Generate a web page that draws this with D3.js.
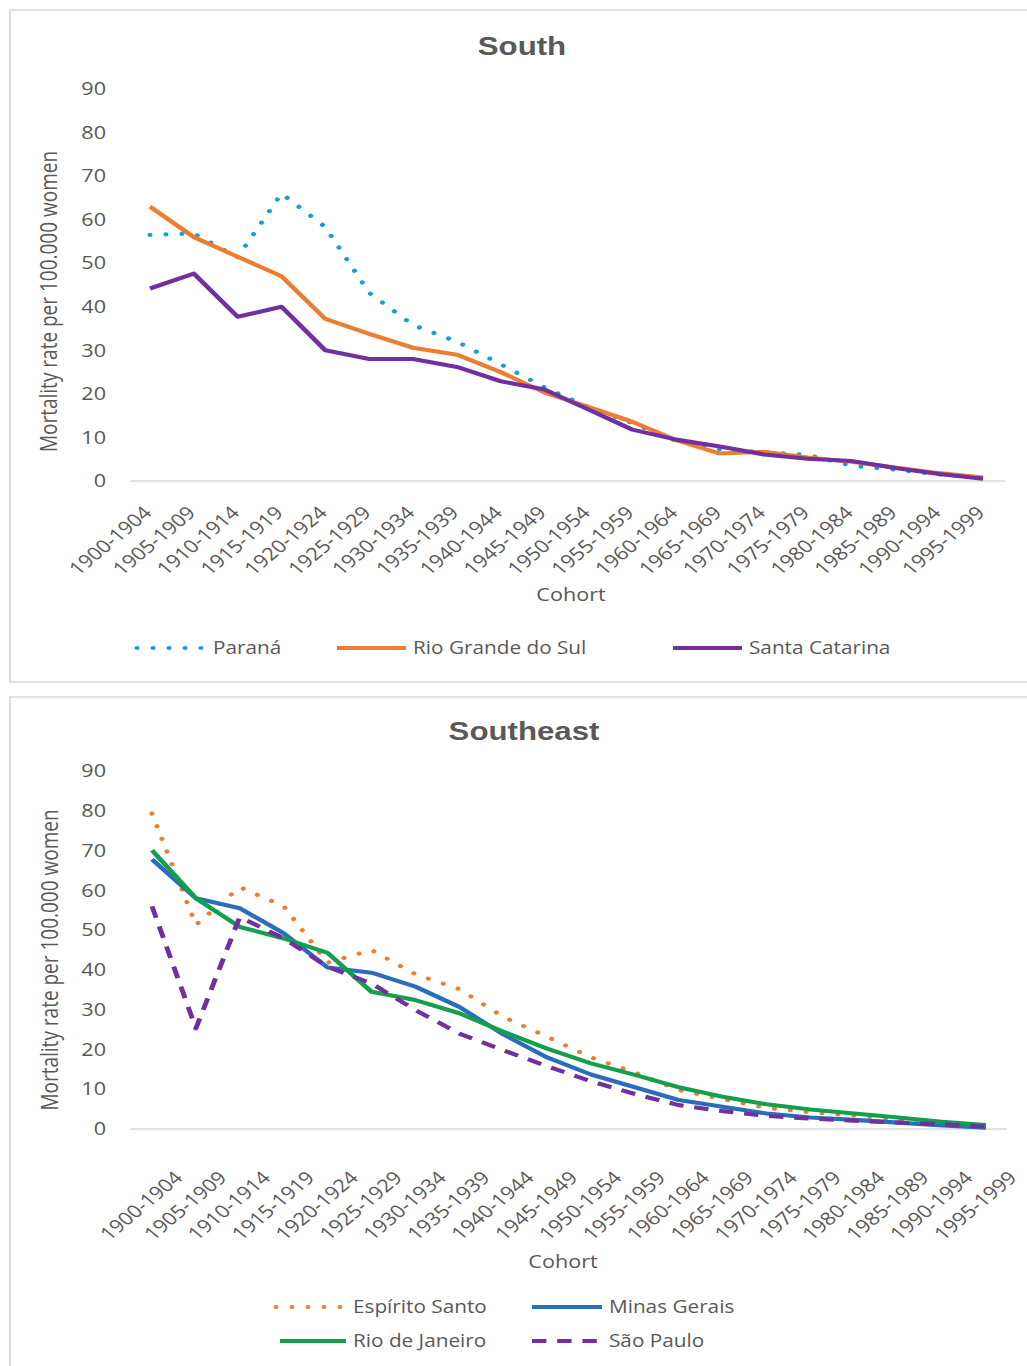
<!DOCTYPE html>
<html>
<head>
<meta charset="utf-8">
<script src="https://cdn.jsdelivr.net/npm/d3@7"></script>
<style>
  html, body { margin: 0; padding: 0; background: #ffffff; }
  svg { display: block; }
  text { font-family: "Open Sans", "Noto Sans", sans-serif; fill: #595959; }
  .title { font-family: "Liberation Sans", Arial, sans-serif; font-weight: bold; }
</style>
</head>
<body>
<svg id="chart"></svg>
<script>
// Cohort categories (x axis)
const cohorts = ["1900-1904", "1905-1909", "1910-1914", "1915-1919", "1920-1924",
  "1925-1929", "1930-1934", "1935-1939", "1940-1944", "1945-1949",
  "1950-1954", "1955-1959", "1960-1964", "1965-1969", "1970-1974",
  "1975-1979", "1980-1984", "1985-1989", "1990-1994", "1995-1999"];

// Y axis tick values
const yTicks = [0, 10, 20, 30, 40, 50, 60, 70, 80, 90];

// South: mortality rate per 100.000 women
const parana         = [56.5, 56.8, 51.4, 66.0, 58.3, 43.2, 35.8, 32.0, 26.8, 21.5,
                        17.0, 13.3, 9.2, 7.3, 6.6, 6.0, 3.5, 2.6, 1.5, 0.7];
const rioGrandeDoSul = [63.0, 56.0, 51.5, 47.0, 37.2, 33.8, 30.6, 29.0, 25.0, 20.3,
                        17.0, 13.6, 9.4, 6.3, 6.7, 5.4, 4.4, 3.1, 1.8, 0.8];
const santaCatarina  = [44.2, 47.6, 37.7, 40.0, 30.0, 28.0, 28.0, 26.2, 22.9, 21.0,
                        16.4, 11.8, 9.5, 7.9, 6.1, 5.1, 4.6, 3.0, 1.6, 0.5];

// Southeast: mortality rate per 100.000 women
const espiritoSanto  = [79.3, 51.3, 60.8, 56.0, 41.8, 45.0, 38.9, 35.2, 28.2, 23.2,
                        18.0, 14.2, 9.8, 7.5, 5.3, 4.2, 3.4, 2.4, 1.5, 0.8];
const minasGerais    = [67.8, 58.0, 55.5, 49.2, 40.6, 39.3, 35.8, 30.7, 23.8, 18.0,
                        13.7, 10.5, 7.3, 5.6, 3.9, 2.9, 2.3, 1.6, 0.9, 0.3];
const rioDeJaneiro   = [70.1, 58.0, 50.8, 47.9, 44.3, 34.5, 32.4, 29.1, 24.5, 20.2,
                        16.5, 13.6, 10.5, 8.1, 6.2, 4.9, 3.9, 2.9, 1.8, 1.0];
const saoPaulo       = [56.0, 25.3, 53.3, 47.9, 40.8, 36.6, 29.9, 24.0, 19.8, 15.8,
                        12.0, 8.8, 6.0, 4.5, 3.3, 2.6, 2.1, 1.6, 1.2, 0.6];

// Drawing is done in a narrower coordinate space that the SVG stretches horizontally.
const W = 1027, H = 1366, SX = 1.2;
const vx = v => v / SX;

const svg = d3.select("#chart")
  .attr("width", W).attr("height", H)
  .attr("viewBox", `0 0 ${W / SX} ${H}`)
  .attr("preserveAspectRatio", "none");

const styles = {
  dotted: { dash: "0.01,13.3", width: 4.2, cap: "round" },
  solid:  { dash: null, width: 4.1, cap: "butt" },
  dashed: { dash: "12,9", width: 4.1, cap: "butt" }
};

const panels = [
  {
    title: "South", titleX: 522, titleY: 55,
    boxTop: 10, boxBottom: 682,
    y0: 481, y90: 89, xFirst: 150, xLast: 983, base0: 130, base1: 1005,
    labelDx: 3, labelDy: 33,
    yTitleX: 57, yTitleY: 301.5, cohortX: 571, cohortY: 601,
    series: [
      { name: "Paraná", values: parana, color: "#12a0da", style: "dotted", lx0: 137, lx1: 205, tx: 213, ly: 648 },
      { name: "Rio Grande do Sul", values: rioGrandeDoSul, color: "#ed7d31", style: "solid", lx0: 337, lx1: 406, tx: 413, ly: 648 },
      { name: "Santa Catarina", values: santaCatarina, color: "#7030a0", style: "solid", lx0: 673, lx1: 742, tx: 749, ly: 648 }
    ]
  },
  {
    title: "Southeast", titleX: 524, titleY: 740,
    boxTop: 697, boxBottom: 1375,
    y0: 1129, y90: 771, xFirst: 152, xLast: 986, base0: 130, base1: 1007,
    labelDx: 32, labelDy: 50,
    yTitleX: 58, yTitleY: 960, cohortX: 563, cohortY: 1268,
    series: [
      { name: "Espírito Santo", values: espiritoSanto, color: "#ed7d31", style: "dotted", lx0: 276, lx1: 344, tx: 353, ly: 1307 },
      { name: "Minas Gerais", values: minasGerais, color: "#2a6ebb", style: "solid", lx0: 532, lx1: 602, tx: 609, ly: 1307 },
      { name: "Rio de Janeiro", values: rioDeJaneiro, color: "#13a04c", style: "solid", lx0: 280, lx1: 346, tx: 353, ly: 1341 },
      { name: "São Paulo", values: saoPaulo, color: "#7030a0", style: "dashed", lx0: 532, lx1: 600, tx: 609, ly: 1341 }
    ]
  }
];

panels.forEach(p => {
  const g = svg.append("g");

  // panel frame
  g.append("rect")
    .attr("x", vx(10)).attr("y", p.boxTop)
    .attr("width", vx(1040)).attr("height", p.boxBottom - p.boxTop)
    .attr("fill", "none").attr("stroke", "#d9d9d9").attr("stroke-width", 1.5);

  const x = d3.scalePoint().domain(cohorts).range([vx(p.xFirst), vx(p.xLast)]);
  const y = d3.scaleLinear().domain([0, 90]).range([p.y0, p.y90]);

  // title
  g.append("text").attr("class", "title")
    .attr("x", vx(p.titleX)).attr("y", p.titleY)
    .attr("text-anchor", "middle").attr("font-size", 26)
    .text(p.title);

  // y axis
  const yAxis = g.append("g")
    .attr("transform", `translate(${vx(106)},0)`)
    .call(d3.axisLeft(y).tickValues(yTicks).tickSize(0).tickPadding(0));
  yAxis.select(".domain").remove();
  yAxis.selectAll("text")
    .attr("font-family", "Open Sans")
    .attr("font-size", 18)
    .attr("fill", "#595959");

  // baseline
  g.append("line")
    .attr("x1", vx(p.base0)).attr("x2", vx(p.base1))
    .attr("y1", p.y0).attr("y2", p.y0)
    .attr("stroke", "#d9d9d9").attr("stroke-width", 1.5);

  // x tick labels
  g.append("g").selectAll("text").data(cohorts).join("text")
    .attr("transform", d => `translate(${x(d) + vx(p.labelDx)},${p.y0 + p.labelDy}) rotate(-45)`)
    .attr("text-anchor", "end")
    .attr("font-size", 18)
    .text(d => d);

  // axis titles
  g.append("text")
    .attr("transform", `translate(${vx(p.yTitleX)},${p.yTitleY}) rotate(-90)`)
    .attr("text-anchor", "middle").attr("font-size", 19)
    .text("Mortality rate per 100.000 women");

  g.append("text")
    .attr("x", vx(p.cohortX)).attr("y", p.cohortY)
    .attr("text-anchor", "middle").attr("font-size", 18)
    .text("Cohort");

  // series lines
  const line = d3.line()
    .x((d, i) => x(cohorts[i]))
    .y(d => y(d));

  p.series.forEach(s => {
    const st = styles[s.style];
    g.append("path")
      .datum(s.values)
      .attr("d", line)
      .attr("fill", "none")
      .attr("stroke", s.color)
      .attr("stroke-width", st.width)
      .attr("stroke-linejoin", "round")
      .attr("stroke-linecap", st.cap)
      .attr("stroke-dasharray", st.dash);
  });

  // legend
  p.series.forEach(s => {
    const st = styles[s.style];
    g.append("line")
      .attr("x1", vx(s.lx0)).attr("x2", vx(s.lx1))
      .attr("y1", s.ly).attr("y2", s.ly)
      .attr("stroke", s.color)
      .attr("stroke-width", st.width)
      .attr("stroke-linecap", st.cap)
      .attr("stroke-dasharray", st.dash);
    g.append("text")
      .attr("x", vx(s.tx)).attr("y", s.ly + 6.3)
      .attr("font-size", 17.3)
      .text(s.name);
  });
});
</script>
</body>
</html>
